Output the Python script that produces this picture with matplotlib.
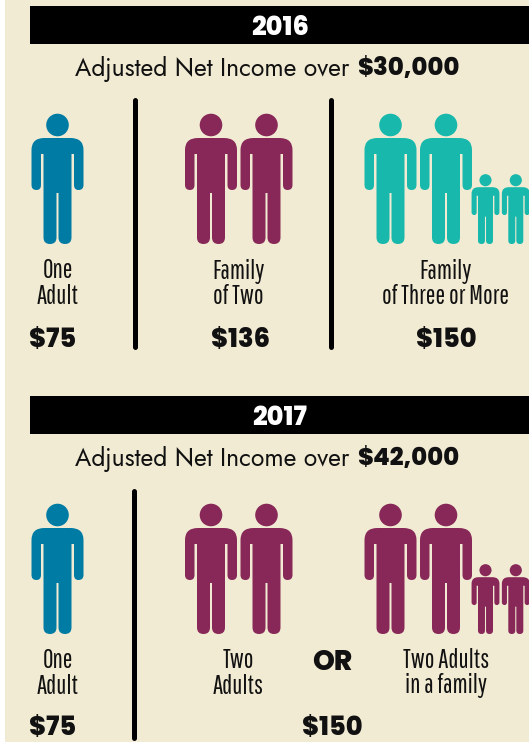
import matplotlib
matplotlib.use('Agg')
import matplotlib.pyplot as plt
from matplotlib.path import Path
from matplotlib.patches import PathPatch, Circle, Rectangle

# ---- content
years = ['2016', '2017']
incomes = ['Adjusted Net Income over $30,000', 'Adjusted Net Income over $42,000']
labels_2016 = ['One\nAdult', 'Family\nof Two', 'Family\nof Three or More']
labels_2017 = ['One\nAdult', 'Two\nAdults', 'Two Adults\nin a family']
amounts_2016 = ['$75', '$136', '$150']
amounts_2017 = ['$75', '$150']
adults_2016 = [1, 2, 2]
children_2016 = [0, 0, 2]
adults_2017 = [1, 2, 2]
children_2017 = [0, 0, 2]

BG, BLUE, MAROON, TEAL = '#F2EBD3', '#007BA4', '#872858', '#18B9AC'
NARROW = ['Pathway Gothic One', 'Barlow Condensed', 'Roboto']
MED = ['Jost', 'Lato']
BOLD = ['Poppins', 'Lato']

fig = plt.figure(figsize=(5.29, 7.42), dpi=100, facecolor='white')
ax = fig.add_axes([0, 0, 1, 1])
ax.set_xlim(0, 529); ax.set_ylim(742, 0); ax.axis('off')
ax.add_patch(Rectangle((5, 0), 524, 742, fc=BG, ec='none'))


def person(cx, foot, s, color):
    """Pictogram of a person: dims are those of an adult, scaled by s."""
    ax.add_patch(Circle((cx, foot - 119 * s), 11.3 * s, fc=color, ec='none'))
    L, C = Path.LINETO, Path.CURVE3
    right = [((1, -51), L), ((1, -6.5), L), ((1, 0), C), ((7.5, 0), C),
             ((14, 0), C), ((14, -6.5), C), ((14, -90), L), ((16.5, -90), L),
             ((16.5, -59), L), ((16.5, -54), C), ((21, -54), C),
             ((26, -54), C), ((26, -59), C), ((26, -94), L),
             ((26, -106), C), ((13, -106), C)]
    v = [(0, -51)] + [p for p, _ in right]
    c = [Path.MOVETO] + [k for _, k in right]
    v += [(-13, -106)]
    c += [L]
    left = [((-26, -106), C), ((-26, -94), C), ((-26, -59), L),
            ((-26, -54), C), ((-21, -54), C), ((-16.5, -54), C), ((-16.5, -59), C),
            ((-16.5, -90), L), ((-14, -90), L), ((-14, -6.5), L), ((-14, 0), C),
            ((-7.5, 0), C), ((-1, 0), C), ((-1, -6.5), C), ((-1, -51), L), ((0, -51), L)]
    v += [p for p, _ in left]
    c += [k for _, k in left]
    verts = [(cx + x * s, foot + y * s) for x, y in v]
    ax.add_patch(PathPatch(Path(verts, c), fc=color, ec='none', lw=0))


def rule(x, y0, y1):
    ax.plot([x, x], [y0, y1], color='black', lw=3.6, solid_capstyle='round')


def group(x, foot, n_ad, n_ch, color):
    for i in range(n_ad):
        person(x + i * 55.5, foot, 1, color)
    for i in range(n_ch):
        person(x + 95 + i * 30.3, foot, 0.536, color)


def label(x, y, s):
    ax.text(x, y, s, family=NARROW, fontsize=18.5, ha='center', va='center',
            linespacing=1.0, color='#111111')


def money(x, y, s, size=18.5):
    ax.text(x, y, s, family=BOLD, weight=800, fontsize=size, ha='center', va='center', color='#111111')


def header(y, year, income):
    ax.add_patch(Rectangle((30, y), 499, 38, fc='black', ec='none'))
    ax.text(280, y + 22.5, year, family=BOLD, weight=800, fontsize=18.5, color='white', ha='center', va='center')
    pre, val = income.rsplit(' ', 1)
    ax.text(75, y + 63.5, pre, family=MED, fontsize=17.8, ha='left', va='center', color='#111111')
    ax.text(357, y + 64, val, family=BOLD, weight=800, fontsize=17.5, ha='left', va='center', color='#111111')


# 2016
header(6, years[0], incomes[0])
rule(135, 100, 347); rule(331, 100, 347)
cols = [57.5, 211, 390.5]
cols16 = [BLUE, MAROON, TEAL]
for x, a, k, col in zip(cols, adults_2016, children_2016, cols16):
    group(x, 244, a, k, col)
for x, s in zip([57.5, 238.5, 446], labels_2016):
    label(x, 283.5, s)
for x, s in zip([53, 241, 446], amounts_2016):
    money(x, 340.5, s)

# 2017
header(396, years[1], incomes[1])
rule(133.5, 491, 738)
for x, a, k, col in zip(cols, adults_2017, children_2017, [BLUE, MAROON, MAROON]):
    group(x, 634, a, k, col)
for x, s in zip([57.5, 238.5, 446], labels_2017):
    label(x, 673.5, s)
money(332, 664, 'OR', 20)
for x, s in zip([53, 332], amounts_2017):
    money(x, 728.5, s)

fig.savefig('out.png', dpi=100, facecolor='white')
